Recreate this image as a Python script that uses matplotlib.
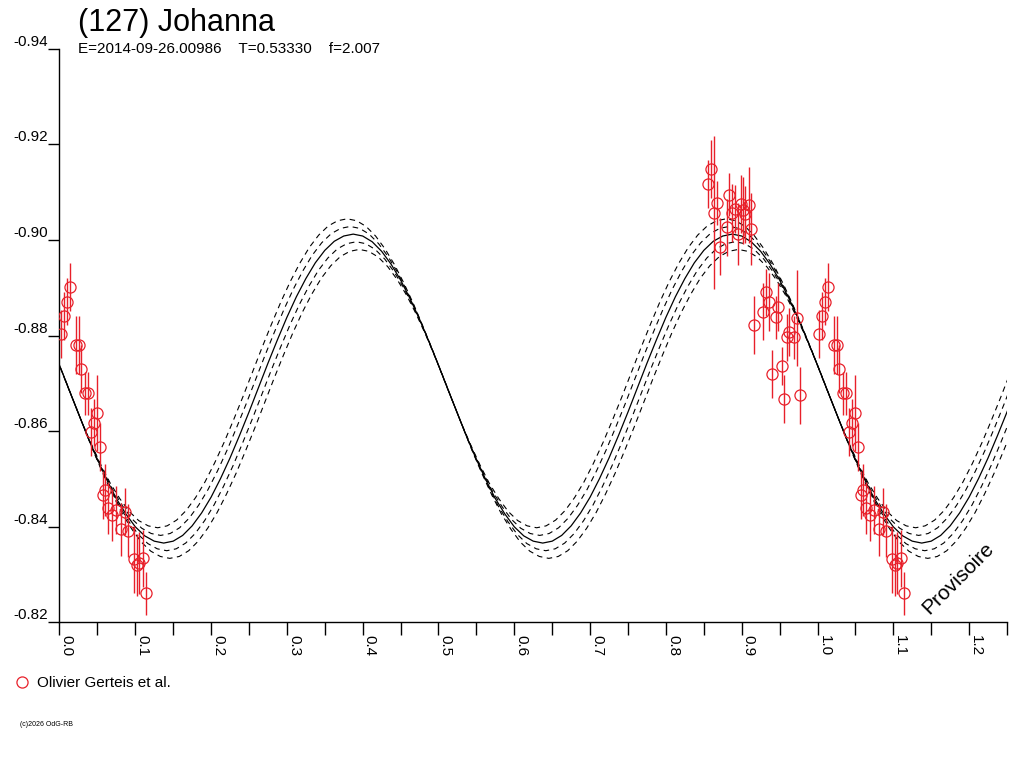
import matplotlib
matplotlib.use("Agg")
import matplotlib.pyplot as plt
import matplotlib.transforms as mtransforms
from matplotlib.lines import Line2D
from matplotlib.ticker import MultipleLocator
import numpy as np

plt.rcParams['font.family'] = ['Liberation Sans', 'DejaVu Sans']

# observations (phase, reduced magnitude, error)
obs_phase = [0.0016, 0.0060, 0.0095, 0.0140, 0.0218, 0.0260, 0.0290, 0.0336, 0.0370, 0.0495,
             0.0455, 0.0420, 0.0540, 0.0600, 0.0580, 0.0644, 0.0689, 0.0745, 0.0864, 0.0810,
             0.0908, 0.0980, 0.1027, 0.1100, 0.1050, 0.1137,
             0.8595, 0.8555, 0.8678, 0.8639, 0.8832, 0.8806, 0.8916, 0.8876, 0.8995, 0.9096,
             0.9048, 0.9013, 0.8951, 0.9119, 0.8714, 0.9158, 0.9316, 0.9360, 0.9281, 0.9483,
             0.9449, 0.9404, 0.9527, 0.9562, 0.9765, 0.9624, 0.9694, 0.9602, 0.9726]
obs_mag = [-0.8803, -0.8841, -0.8871, -0.8901, -0.8780, -0.8780, -0.8730, -0.8679, -0.8679, -0.8638,
           -0.8618, -0.8598, -0.8567, -0.8477, -0.8467, -0.8439, -0.8425, -0.8435, -0.8432, -0.8395,
           -0.8392, -0.8332, -0.8320, -0.8334, -0.8324, -0.8261,
           -0.9148, -0.9117, -0.9077, -0.9057, -0.9094, -0.9026, -0.9064, -0.9056, -0.9075, -0.9073,
           -0.9053, -0.9062, -0.9012, -0.9022, -0.8986, -0.8822, -0.8890, -0.8870, -0.8850, -0.8859,
           -0.8838, -0.8719, -0.8737, -0.8668, -0.8675, -0.8808, -0.8796, -0.8796, -0.8836]
obs_err = [0.0050, 0.0050, 0.0050, 0.0050, 0.0060, 0.0060, 0.0050, 0.0045, 0.0045, 0.0080,
           0.0050, 0.0050, 0.0050, 0.0055, 0.0050, 0.0055, 0.0055, 0.0050, 0.0050, 0.0055,
           0.0055, 0.0070, 0.0065, 0.0060, 0.0065, 0.0045,
           0.0060, 0.0050, 0.0045, 0.0160, 0.0045, 0.0060, 0.0050, 0.0060, 0.0060, 0.0080,
           0.0060, 0.0070, 0.0065, 0.0075, 0.0060, 0.0060, 0.0050, 0.0060, 0.0060, 0.0050,
           0.0045, 0.0050, 0.0040, 0.0050, 0.0060, 0.0050, 0.0045, 0.0050, 0.0100]

# fitted lightcurve, one full phase cycle
model_phase = [0.0000, 0.0125, 0.0250, 0.0375, 0.0500, 0.0625, 0.0750, 0.0875, 0.1000, 0.1125,
               0.1250, 0.1375, 0.1500, 0.1625, 0.1750, 0.1875, 0.2000, 0.2125, 0.2250, 0.2375,
               0.2500, 0.2625, 0.2750, 0.2875, 0.3000, 0.3125, 0.3250, 0.3375, 0.3500, 0.3625,
               0.3750, 0.3875, 0.4000, 0.4125, 0.4250, 0.4375, 0.4500, 0.4625, 0.4750, 0.4875,
               0.5000, 0.5125, 0.5250, 0.5375, 0.5500, 0.5625, 0.5750, 0.5875, 0.6000, 0.6125,
               0.6250, 0.6375, 0.6500, 0.6625, 0.6750, 0.6875, 0.7000, 0.7125, 0.7250, 0.7375,
               0.7500, 0.7625, 0.7750, 0.7875, 0.8000, 0.8125, 0.8250, 0.8375, 0.8500, 0.8625,
               0.8750, 0.8875, 0.9000, 0.9125, 0.9250, 0.9375, 0.9500, 0.9625, 0.9750, 0.9875,
               1.0000]
model_mag = [-0.8738, -0.8687, -0.8637, -0.8587, -0.8541, -0.8498, -0.8459, -0.8427, -0.8400, -0.8381,
             -0.8370, -0.8366, -0.8370, -0.8382, -0.8402, -0.8429, -0.8462, -0.8501, -0.8544, -0.8591,
             -0.8640, -0.8691, -0.8742, -0.8791, -0.8838, -0.8881, -0.8919, -0.8952, -0.8978, -0.8997,
             -0.9008, -0.9012, -0.9008, -0.8996, -0.8976, -0.8949, -0.8916, -0.8877, -0.8834, -0.8787,
             -0.8738, -0.8687, -0.8637, -0.8587, -0.8541, -0.8498, -0.8459, -0.8427, -0.8400, -0.8381,
             -0.8370, -0.8366, -0.8370, -0.8382, -0.8402, -0.8429, -0.8462, -0.8501, -0.8544, -0.8591,
             -0.8640, -0.8691, -0.8742, -0.8791, -0.8838, -0.8881, -0.8919, -0.8952, -0.8978, -0.8997,
             -0.9008, -0.9012, -0.9008, -0.8996, -0.8976, -0.8949, -0.8916, -0.8877, -0.8834, -0.8787,
             -0.8738]
# uncertainty band: phase / magnitude shifts of the dashed curves
band_dphase = [-0.0080, -0.0040, 0.0040, 0.0080]
band_dmag = [-0.0032, -0.0016, 0.0016, 0.0032]

xticks = [0.0, 0.1, 0.2, 0.3, 0.4, 0.5, 0.6, 0.7, 0.8, 0.9, 1.0, 1.1, 1.2]
xlabels = ['0.0', '0.1', '0.2', '0.3', '0.4', '0.5', '0.6', '0.7', '0.8', '0.9', '1.0', '1.1', '1.2']
yticks = [-0.94, -0.92, -0.90, -0.88, -0.86, -0.84, -0.82]
ylabels = ['-0.94', '-0.92', '-0.90', '-0.88', '-0.86', '-0.84', '-0.82']

red = '#e8202a'

fig = plt.figure(figsize=(10.24, 7.68), dpi=100)
ax = fig.add_axes([0.0581, 0.1895, 0.9253, 0.7473])

mp = np.array(model_phase)
mm = np.array(model_mag)
for shift in (0, 1):
    ax.plot(mp + shift, mm, color='black', lw=0.9, zorder=2)
    for dx, dy in zip(band_dphase, band_dmag):
        tr = mtransforms.Affine2D().translate(dx, dy) + ax.transData
        ax.plot(mp + shift, mm, color='black', lw=0.8, ls=(0, (5, 4)),
                transform=tr, zorder=2)

ph = np.array(obs_phase)
for shift in (0, 1):
    ax.errorbar(ph + shift, obs_mag, yerr=obs_err, fmt='o', mfc='none', mec=red,
                ecolor=red, ms=8, mew=0.9, elinewidth=1.0, capsize=0, zorder=3)

ax.set_xlim(0, 1.25)
ax.set_ylim(-0.82, -0.94)

for s in ('top', 'right'):
    ax.spines[s].set_visible(False)
ax.spines['left'].set_linewidth(1.0)
ax.spines['bottom'].set_linewidth(1.0)

ax.set_xticks(xticks)
ax.set_xticklabels(xlabels, rotation=-90, ha='left', fontsize=11)
ax.xaxis.set_minor_locator(MultipleLocator(0.05))
ax.tick_params(axis='x', which='both', direction='out', length=9, width=1.0, pad=0)
ax.set_yticks(yticks)
ax.set_yticklabels(ylabels, va='bottom', fontsize=11)
ax.tick_params(axis='y', direction='out', length=8, width=1.0, pad=0)

ax.text(0.948, 0.0775, 'Provisoire', transform=ax.transAxes, rotation=45,
        fontsize=15, ha='center', va='center')

fig.text(0.076, 0.99, '(127) Johanna', fontsize=22, ha='left', va='top')
fig.text(0.076, 0.945, 'E=2014-09-26.00986    T=0.53330    f=2.007',
         fontsize=11, ha='left', va='top')

handle = Line2D([], [], ls='none', marker='o', mfc='none', mec=red, ms=8, mew=0.9)
fig.legend([handle], ['Olivier Gerteis et al.'], loc='center left',
           bbox_to_anchor=(0.014, 0.1107), frameon=False, fontsize=11,
           handlelength=1.0, handletextpad=0.5, borderpad=0, borderaxespad=0)

fig.text(0.02, 0.057, '(c)2026 OdG-RB', fontsize=5, ha='left', va='center')

fig.savefig('out.png', dpi=100)
